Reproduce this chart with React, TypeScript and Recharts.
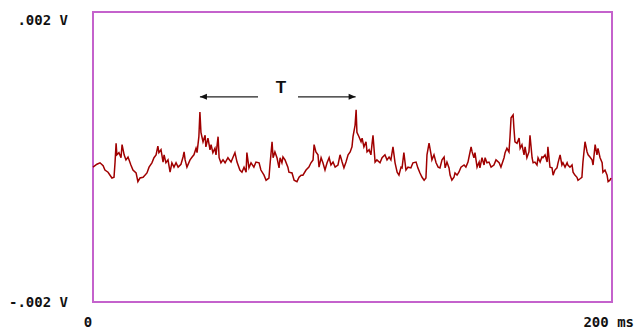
import { LineChart, Line, XAxis, YAxis, ReferenceArea, ReferenceLine, ReferenceDot } from "recharts";

// time (ms) and signal (mV)
const timeMs = [
  0, 1.5, 2.7, 3.9, 4.6, 5.8, 7.3, 8.1, 8.5, 8.9, 9.2, 10.0, 10.8, 11.2, 12.0, 12.7, 13.5, 14.6, 15.4, 16.6,
  17.3, 18.1, 19.3, 20.8, 21.6, 22.7, 23.5, 24.3, 25.0, 25.4, 26.2, 27.0, 27.4, 28.1, 28.9, 29.7, 30.4, 31.2, 32.0, 32.8,
  33.9, 34.7, 35.1, 35.5, 36.2, 37.4, 38.2, 38.9, 39.7, 40.1, 40.8, 41.2, 41.6, 42.4, 43.2, 43.5, 44.3, 45.1, 45.5, 46.2,
  47.0, 47.4, 48.2, 48.6, 49.3, 50.1, 50.9, 52.0, 53.2, 54.0, 54.7, 55.5, 56.6, 57.4, 58.2, 59.0, 59.3, 60.1, 60.9, 62.0,
  62.8, 64.0, 64.7, 65.9, 66.7, 67.8, 68.2, 69.0, 69.4, 70.1, 70.9, 71.7, 72.1, 72.8, 73.2, 74.0, 75.1, 75.5, 76.7, 77.5,
  78.6, 79.4, 80.2, 80.9, 82.1, 83.2, 84.0, 84.8, 85.2, 85.9, 86.7, 87.1, 87.9, 88.6, 89.4, 90.2, 91.0, 91.7, 92.5, 93.3,
  94.4, 95.2, 96.0, 96.7, 97.5, 98.3, 99.1, 99.8, 100.2, 101.0, 101.4, 101.7, 102.5, 103.3, 103.7, 104.4, 105.2, 105.6, 106.4, 107.1,
  107.5, 107.9, 108.7, 109.4, 110.6, 111.4, 112.5, 113.3, 114.1, 114.8, 115.6, 116.4, 117.2, 117.9, 118.7, 119.1, 119.8, 120.6, 121.4, 122.5,
  123.3, 124.5, 125.2, 126.0, 126.8, 127.6, 128.3, 128.7, 129.5, 130.3, 130.6, 131.4, 132.2, 133.0, 133.7, 134.5, 135.3, 135.7, 136.4, 137.2,
  137.6, 138.3, 139.1, 139.5, 140.3, 141.0, 141.8, 143.0, 143.7, 144.5, 144.9, 145.7, 146.1, 146.8, 147.2, 148.0, 148.8, 149.1, 149.9, 150.7,
  151.1, 151.8, 152.6, 153.4, 154.5, 155.3, 156.5, 157.2, 158.4, 158.8, 159.5, 160.3, 160.7, 161.1, 161.9, 162.2, 162.6, 163.4, 164.2, 164.6,
  165.3, 166.1, 166.5, 167.2, 168.0, 168.4, 169.2, 169.6, 170.3, 171.1, 171.5, 172.3, 173.0, 173.4, 174.2, 175.0, 175.3, 176.1, 176.9, 177.3,
  178.0, 178.8, 179.2, 180.0, 180.7, 181.1, 181.9, 182.7, 183.0, 183.8, 184.6, 185.0, 185.7, 186.5, 186.9, 187.7, 188.4, 188.8, 189.6, 190.4,
  190.8, 191.5, 192.3, 192.7, 193.5, 194.2, 194.6, 195.4, 196.2, 196.5, 197.3, 198.1, 198.5, 199.2, 199.6,
];

const signalMv = [
  -0.14, -0.1, -0.08, -0.12, -0.18, -0.21, -0.29, -0.28, -0.07, 0.19, 0.03, 0.06, -0.01, 0.17, 0.03, -0.04, 0, -0.11, -0.18, -0.22,
  -0.34, -0.29, -0.28, -0.22, -0.14, -0.08, -0.01, 0.03, 0.15, 0.06, 0.1, -0.07, 0.03, -0.08, -0.04, -0.21, -0.08, -0.14, -0.08, -0.14,
  -0.1, 0, 0.07, -0.04, -0.14, -0.04, 0, 0.03, 0.12, 0.06, 0.28, 0.62, 0.34, 0.21, 0.3, 0.14, 0.26, 0.1, 0.17, 0.06,
  0.12, 0.03, 0.28, -0.01, -0.08, -0.04, -0.08, -0.01, -0.07, 0, 0.06, -0.07, -0.18, -0.21, -0.14, -0.21, 0.06, -0.15, -0.08, -0.14,
  -0.07, -0.08, -0.18, -0.25, -0.32, -0.29, -0.11, 0.21, -0.01, 0.07, -0.01, -0.15, -0.01, -0.08, 0, -0.04, -0.14, -0.21, -0.22, -0.32,
  -0.34, -0.28, -0.25, -0.25, -0.18, -0.14, -0.08, -0.04, 0.17, 0.07, 0.03, -0.14, -0.01, -0.08, -0.18, -0.08, -0.01, -0.11, -0.07, -0.14,
  -0.11, 0.03, -0.07, -0.15, -0.07, 0.03, 0.07, 0.14, 0.28, 0.44, 0.65, 0.34, 0.28, 0.21, 0.26, 0.14, 0.21, 0.07, 0.1, 0.03,
  0.17, 0.3, -0.07, -0.04, -0.08, -0.01, 0.03, -0.04, 0, -0.04, 0.14, -0.08, -0.21, -0.25, -0.14, -0.15, 0.06, -0.18, -0.14, -0.15,
  -0.08, -0.07, -0.15, -0.22, -0.28, -0.32, -0.29, 0.03, 0.19, 0.03, -0.04, 0.03, -0.08, -0.14, -0.15, -0.04, 0, -0.15, -0.07, -0.15,
  -0.25, -0.32, -0.28, -0.22, -0.25, -0.21, -0.14, -0.11, -0.14, -0.07, 0, 0.14, 0.07, -0.01, 0.06, -0.14, -0.07, -0.15, -0.01, -0.11,
  -0.01, -0.08, -0.07, -0.14, -0.11, -0.04, -0.08, -0.14, -0.01, 0.06, 0.12, 0.07, 0.28, 0.54, 0.58, 0.4, 0.21, 0.19, 0.26, 0.12,
  0.17, 0.03, 0.14, -0.01, 0.07, 0.3, -0.01, -0.08, -0.07, -0.11, -0.01, -0.07, 0, -0.01, 0.03, -0.07, 0.14, -0.14, -0.15, -0.25,
  -0.18, -0.15, -0.08, 0.03, -0.11, -0.08, -0.14, -0.08, -0.11, -0.14, -0.11, -0.21, -0.25, -0.28, -0.32, -0.3, -0.28, -0.07, 0.21, 0.07,
  0.03, 0, -0.04, -0.11, 0.17, 0.03, 0.12, -0.01, -0.08, -0.21, -0.18, -0.25, -0.34, -0.32, -0.29,
];

const xTicks = [0, 200];
const yTicks = [-2, 2];
const xTickLabels: Record<number, string> = { 0: "0", 200: "200 ms" };
const yTickLabels: Record<number, string> = { 2: ".002 V", [-2]: "-.002 V" };

// period annotation: arrows from each peak toward the "T" label
const arrowLevel = 0.83;
const leftArrow = [41.2, 63.6];
const rightArrow = [79.0, 101.2];
const periodLabel = { t: 72.4, v: 0.97, text: "T" };

const data = timeMs.map((t, i) => ({ t, v: signalMv[i] }));

const labelFont = { fontFamily: "DejaVu Sans Mono", fontSize: 14, fontWeight: "bold" as const, fill: "#111" };

function YTick(props: any) {
  const { x, y, payload } = props;
  const top = payload.value > 0;
  return (
    <text x={x - 25} y={top ? y + 8 : y} dy="0.35em" textAnchor="end" {...labelFont}>
      {yTickLabels[payload.value]}
    </text>
  );
}

function XTick(props: any) {
  const { x, y, payload } = props;
  const first = payload.value === 0;
  return (
    <text x={first ? x - 5 : x + 22} y={y + 20} dy="0.35em" textAnchor={first ? "middle" : "end"} {...labelFont}>
      {xTickLabels[payload.value]}
    </text>
  );
}

function Arrow(headAt: "start" | "end") {
  return (p: any) => {
    const { x1, y1, x2, y2 } = p;
    const hx = headAt === "start" ? x1 : x2;
    const dir = headAt === "start" ? 1 : -1;
    return (
      <g>
        <line x1={x1} y1={y1} x2={x2} y2={y2} stroke="#222" strokeWidth={1.2} />
        <polygon points={`${hx},${y1} ${hx + dir * 7},${y1 - 3} ${hx + dir * 7},${y1 + 3}`} fill="#111" />
      </g>
    );
  };
}

export default function App() {
  return (
    <div style={{ position: "absolute", left: 0, top: 0, width: 635, height: 336, background: "#fff" }}>
      <LineChart width={635} height={336} data={data} margin={{ top: 12, right: 23, bottom: 4, left: 13 }}>
        <XAxis
          dataKey="t"
          type="number"
          domain={[0, 200]}
          ticks={xTicks}
          axisLine={false}
          tickLine={false}
          tickSize={0}
          tickMargin={0}
          height={30}
          tick={<XTick />}
          interval={0}
        />
        <YAxis
          type="number"
          domain={[-2, 2]}
          ticks={yTicks}
          axisLine={false}
          tickLine={false}
          tickSize={0}
          tickMargin={0}
          width={80}
          tick={<YTick />}
          interval={0}
        />
        <ReferenceArea x1={0} x2={200} y1={-2} y2={2} fill="none" stroke="#c462cc" strokeWidth={2} />
        <Line
          type="linear"
          dataKey="v"
          stroke="#a00000"
          strokeWidth={1.5}
          dot={false}
          isAnimationActive={false}
        />
        <ReferenceLine
          segment={[{ x: leftArrow[0], y: arrowLevel }, { x: leftArrow[1], y: arrowLevel }]}
          shape={Arrow("start")}
        />
        <ReferenceLine
          segment={[{ x: rightArrow[0], y: arrowLevel }, { x: rightArrow[1], y: arrowLevel }]}
          shape={Arrow("end")}
        />
        <ReferenceDot
          x={periodLabel.t}
          y={periodLabel.v}
          r={0}
          shape={(p: any) => (
            <text x={p.cx} y={p.cy} dy="0.35em" textAnchor="middle" fontFamily="Liberation Sans" fontWeight="bold" fontSize={17} fill="#111">
              {periodLabel.text}
            </text>
          )}
        />
      </LineChart>
    </div>
  );
}
